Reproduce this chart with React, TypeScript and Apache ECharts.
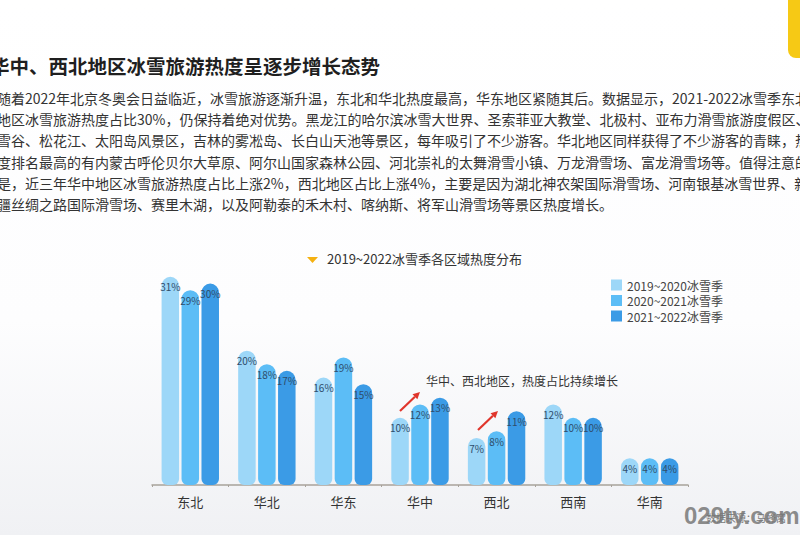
import React, { useEffect, useRef } from "react";
import * as echarts from "echarts";

const categories = ["东北", "华北", "华东", "华中", "西北", "西南", "华南"];
const seriesNames = ["2019~2020冰雪季", "2020~2021冰雪季", "2021~2022冰雪季"];
const season2019 = [31, 20, 16, 10, 7, 12, 4];
const season2020 = [29, 18, 19, 12, 8, 10, 4];
const season2021 = [30, 17, 15, 13, 11, 10, 4];
const barColors = ["#9dd7f8", "#5cbdf6", "#3b9be6"];

const titleText = "华中、西北地区冰雪旅游热度呈逐步增长态势";
const subTitleText = "2019~2022冰雪季各区域热度分布";
const noteText = "华中、西北地区，热度占比持续增长";
const sourceText = "数据来源：马蜂窝";
const watermarkText = "029ty.com";
const paragraphLines = [
  "随着2022年北京冬奥会日益临近，冰雪旅游逐渐升温，东北和华北热度最高，华东地区紧随其后。数据显示，2021-2022冰雪季东北",
  "地区冰雪旅游热度占比30%，仍保持着绝对优势。黑龙江的哈尔滨冰雪大世界、圣索菲亚大教堂、北极村、亚布力滑雪旅游度假区、",
  "雪谷、松花江、太阳岛风景区，吉林的雾凇岛、长白山天池等景区，每年吸引了不少游客。华北地区同样获得了不少游客的青睐，热",
  "度排名最高的有内蒙古呼伦贝尔大草原、阿尔山国家森林公园、河北崇礼的太舞滑雪小镇、万龙滑雪场、富龙滑雪场等。值得注意的",
  "是，近三年华中地区冰雪旅游热度占比上涨2%，西北地区占比上涨4%，主要是因为湖北神农架国际滑雪场、河南银基冰雪世界、新",
  "疆丝绸之路国际滑雪场、赛里木湖，以及阿勒泰的禾木村、喀纳斯、将军山滑雪场等景区热度增长。",
];

const CJK = '"Noto Sans CJK SC", "Noto Sans", sans-serif';

function arrow(tx: number, ty: number, hx: number, hy: number, color: string) {
  const dx = hx - tx;
  const dy = hy - ty;
  const len = Math.sqrt(dx * dx + dy * dy);
  const ux = dx / len;
  const uy = dy / len;
  const px = -uy;
  const py = ux;
  const headLen = 7;
  const headW = 3.5;
  const bx = hx - ux * headLen;
  const by = hy - uy * headLen;
  return [
    {
      type: "line",
      shape: { x1: tx, y1: ty, x2: bx, y2: by },
      style: { stroke: color, lineWidth: 2.2 },
    },
    {
      type: "polygon",
      shape: {
        points: [
          [hx, hy],
          [bx + px * headW, by + py * headW],
          [bx - px * headW, by - py * headW],
        ],
      },
      style: { fill: color },
    },
  ];
}

export default function App() {
  const ref = useRef<HTMLDivElement>(null);

  useEffect(() => {
    document.body.style.margin = "0";
    if (!ref.current) return;
    const chart = echarts.init(ref.current, null, { renderer: "svg" });

    const paragraph = paragraphLines.map((line, i) => ({
      type: "text",
      left: -3,
      top: 91 + i * 21.2,
      style: {
        text: line,
        font: `14px ${CJK}`,
        fill: "#333333",
      },
    }));

    const labelCfg = {
      show: true,
      position: "insideTop",
      distance: 5,
      formatter: "{c}%",
      fontSize: 10,
      color: "#2f4d6b",
      fontFamily: CJK,
    };

    const series = [season2019, season2020, season2021].map((d, i) => ({
      name: seriesNames[i],
      type: "bar",
      data: d,
      barWidth: 17.5,
      barGap: "14%",
      itemStyle: { color: barColors[i], borderRadius: [9, 9, 6, 6] },
      label: labelCfg,
    }));

    chart.setOption({
      animation: false,
      backgroundColor: "#ffffff",
      textStyle: { fontFamily: CJK },
      graphic: [
        {
          type: "rect",
          left: 0,
          top: 0,
          z: -10,
          shape: { width: 800, height: 535 },
          style: {
            fill: new echarts.graphic.LinearGradient(0, 0, 0, 1, [
              { offset: 0, color: "#ffffff" },
              { offset: 0.6, color: "#fdfdfe" },
              { offset: 1, color: "#f0f1f4" },
            ]),
          },
        },
        {
          type: "rect",
          shape: { x: 788, y: -10, width: 20, height: 68, r: 8 },
          style: { fill: "#f6c915" },
        },
        {
          type: "text",
          left: -10,
          top: 56,
          style: {
            text: titleText,
            font: `bold 19.5px ${CJK}`,
            fill: "#1f1f1f",
          },
        },
        ...paragraph,
        {
          type: "polygon",
          shape: { points: [[307, 257], [318, 257], [312.5, 263]] },
          style: { fill: "#f5b111" },
        },
        {
          type: "text",
          left: 327,
          top: 252,
          style: { text: subTitleText, font: `13px ${CJK}`, fill: "#333333" },
        },
        {
          type: "text",
          left: 426,
          top: 374,
          style: { text: noteText, font: `12px ${CJK}`, fill: "#333333" },
        },
        ...arrow(400, 411, 420, 392, "#e0352b"),
        ...arrow(478, 430, 498, 411, "#e0352b"),
        {
          type: "text",
          left: 706,
          top: 512,
          style: { text: sourceText, font: `10px ${CJK}`, fill: "#777777" },
        },
        {
          type: "text",
          left: 684,
          top: 503,
          style: {
            text: watermarkText,
            font: 'bold 24px "Liberation Sans", Arial, sans-serif',
            fill: "rgba(120,120,120,0.85)",
          },
        },
      ],
      legend: {
        orient: "vertical",
        left: 606,
        top: 274,
        itemWidth: 11,
        itemHeight: 11,
        itemGap: 3.5,
        icon: "rect",
        textStyle: { fontSize: 12, color: "#444444", fontFamily: CJK },
        data: seriesNames,
      },
      grid: { left: 152, right: 112, top: 250, bottom: 50, containLabel: false },
      xAxis: {
        type: "category",
        data: categories,
        axisLine: { lineStyle: { color: "#a8a29a", width: 1.5 } },
        axisTick: { show: true, length: 2, lineStyle: { color: "#a8a29a" } },
        axisLabel: { fontSize: 13, color: "#333333", margin: 10, fontFamily: CJK },
      },
      yAxis: {
        type: "value",
        min: 0,
        max: 35,
        show: false,
        splitLine: { show: false },
      },
      series,
    });

    return () => chart.dispose();
  }, []);

  return (
    <div
      ref={ref}
      style={{ position: "absolute", left: 0, top: 0, width: 800, height: 535 }}
    />
  );
}
